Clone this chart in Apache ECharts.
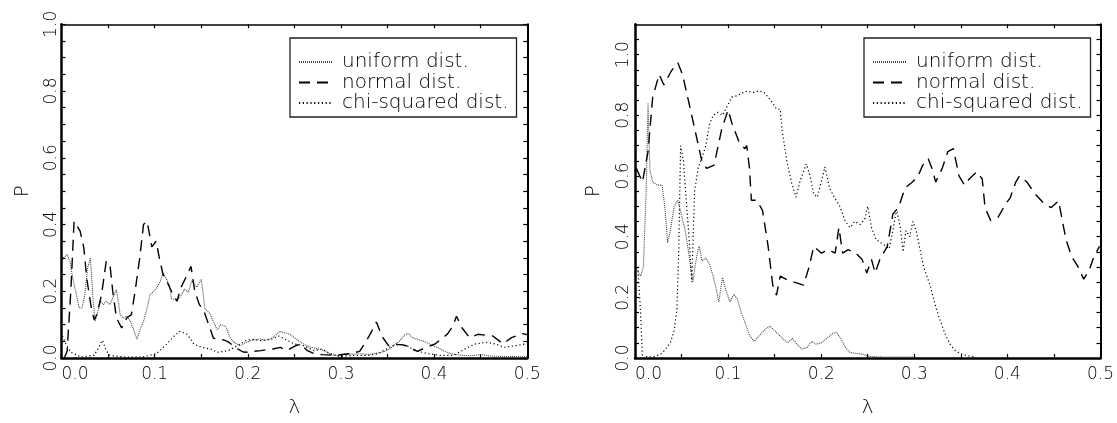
<!DOCTYPE html>
<html><head><meta charset="utf-8">
<script src="https://cdn.jsdelivr.net/npm/echarts@6/dist/echarts.min.js"></script>
<style>html,body{margin:0;padding:0;background:#fff}#c{width:1117px;height:423px}</style>
</head><body><div id="c"></div>
<script>
const seriesNames = ['uniform dist.', 'normal dist.', 'chi-squared dist.'];
const xTickLabels = ['0.0','0.1','0.2','0.3','0.4','0.5'];
const yTickLabels = ['0.0','0.2','0.4','0.6','0.8','1.0'];

const leftUniform = [[0.002,0.30],[0.006,0.31],[0.009,0.29],[0.012,0.24],[0.016,0.19],[0.019,0.15],[0.022,0.15],[0.025,0.19],[0.028,0.27],[0.031,0.30],[0.034,0.17],[0.036,0.11],[0.039,0.14],[0.042,0.17],[0.045,0.16],[0.048,0.17],[0.052,0.16],[0.055,0.18],[0.059,0.205],[0.063,0.13],[0.066,0.12],[0.070,0.125],[0.074,0.11],[0.078,0.08],[0.081,0.057],[0.085,0.09],[0.088,0.11],[0.092,0.15],[0.095,0.19],[0.099,0.20],[0.102,0.21],[0.106,0.23],[0.109,0.255],[0.112,0.24],[0.116,0.217],[0.118,0.178],[0.122,0.175],[0.125,0.174],[0.129,0.19],[0.132,0.207],[0.136,0.197],[0.140,0.232],[0.145,0.212],[0.150,0.236],[0.154,0.148],[0.159,0.134],[0.163,0.11],[0.167,0.085],[0.171,0.10],[0.176,0.095],[0.181,0.061],[0.186,0.045],[0.192,0.037],[0.197,0.045],[0.202,0.051],[0.208,0.055],[0.213,0.057],[0.219,0.053],[0.224,0.057],[0.229,0.066],[0.234,0.08],[0.240,0.075],[0.245,0.071],[0.252,0.057],[0.258,0.045],[0.263,0.037],[0.268,0.032],[0.274,0.028],[0.280,0.024],[0.285,0.017],[0.290,0.010],[0.295,0.007],[0.300,0.010],[0.306,0.013],[0.313,0.011],[0.320,0.013],[0.330,0.011],[0.340,0.015],[0.347,0.020],[0.353,0.028],[0.358,0.040],[0.363,0.051],[0.368,0.068],[0.372,0.074],[0.377,0.060],[0.383,0.055],[0.389,0.050],[0.395,0.042],[0.400,0.035],[0.405,0.030],[0.410,0.022],[0.416,0.015],[0.423,0.010],[0.430,0.008],[0.440,0.007],[0.450,0.010],[0.460,0.006],[0.470,0.005],[0.480,0.004],[0.490,0.004],[0.500,0.003]];

const leftNormal = [[0.003,0.0],[0.006,0.02],[0.010,0.20],[0.0135,0.41],[0.020,0.38],[0.024,0.33],[0.027,0.24],[0.032,0.15],[0.035,0.115],[0.038,0.13],[0.043,0.19],[0.048,0.29],[0.052,0.28],[0.055,0.20],[0.059,0.12],[0.0646,0.09],[0.070,0.12],[0.075,0.13],[0.079,0.20],[0.084,0.30],[0.088,0.40],[0.0918,0.41],[0.097,0.333],[0.1016,0.35],[0.105,0.30],[0.109,0.25],[0.113,0.23],[0.118,0.20],[0.124,0.17],[0.128,0.21],[0.135,0.25],[0.139,0.275],[0.143,0.20],[0.148,0.16],[0.153,0.14],[0.158,0.10],[0.163,0.06],[0.168,0.055],[0.173,0.055],[0.178,0.05],[0.183,0.04],[0.189,0.027],[0.195,0.018],[0.200,0.017],[0.207,0.02],[0.214,0.022],[0.220,0.025],[0.227,0.027],[0.235,0.032],[0.242,0.022],[0.250,0.035],[0.256,0.042],[0.264,0.022],[0.271,0.013],[0.280,0.010],[0.294,0.008],[0.310,0.013],[0.320,0.02],[0.327,0.05],[0.333,0.08],[0.338,0.108],[0.344,0.065],[0.351,0.037],[0.358,0.04],[0.365,0.04],[0.371,0.036],[0.382,0.02],[0.390,0.03],[0.401,0.042],[0.414,0.071],[0.420,0.095],[0.424,0.125],[0.430,0.09],[0.438,0.061],[0.447,0.071],[0.463,0.066],[0.474,0.042],[0.483,0.061],[0.495,0.073],[0.500,0.07]];

const leftChi = [[0.001,0.066],[0.005,0.04],[0.010,0.017],[0.021,0.003],[0.035,0.008],[0.040,0.032],[0.044,0.053],[0.048,0.022],[0.052,0.008],[0.067,0.003],[0.087,0.003],[0.102,0.013],[0.113,0.042],[0.121,0.066],[0.127,0.08],[0.135,0.071],[0.142,0.042],[0.150,0.032],[0.160,0.027],[0.167,0.017],[0.179,0.022],[0.189,0.037],[0.198,0.052],[0.204,0.056],[0.214,0.052],[0.225,0.056],[0.233,0.066],[0.240,0.056],[0.250,0.042],[0.260,0.037],[0.271,0.022],[0.279,0.027],[0.289,0.013],[0.298,0.005],[0.314,0.008],[0.329,0.008],[0.340,0.013],[0.352,0.032],[0.360,0.042],[0.371,0.037],[0.379,0.022],[0.394,0.013],[0.406,0.008],[0.421,0.008],[0.433,0.027],[0.444,0.042],[0.456,0.047],[0.466,0.042],[0.475,0.032],[0.487,0.037],[0.498,0.042]];

const rightUniform = [[0.002,0.29],[0.006,0.27],[0.009,0.30],[0.012,0.55],[0.014,0.84],[0.016,0.62],[0.019,0.58],[0.024,0.57],[0.029,0.57],[0.032,0.50],[0.035,0.38],[0.038,0.42],[0.042,0.50],[0.046,0.52],[0.050,0.47],[0.054,0.42],[0.058,0.34],[0.062,0.25],[0.066,0.33],[0.069,0.37],[0.072,0.32],[0.076,0.33],[0.080,0.31],[0.084,0.27],[0.087,0.23],[0.090,0.185],[0.094,0.265],[0.098,0.22],[0.102,0.185],[0.106,0.21],[0.110,0.195],[0.114,0.15],[0.119,0.11],[0.123,0.075],[0.128,0.055],[0.134,0.075],[0.140,0.095],[0.145,0.105],[0.150,0.09],[0.155,0.075],[0.160,0.06],[0.164,0.05],[0.169,0.065],[0.174,0.045],[0.179,0.03],[0.185,0.035],[0.190,0.055],[0.195,0.045],[0.200,0.05],[0.206,0.065],[0.212,0.08],[0.216,0.085],[0.221,0.065],[0.226,0.035],[0.231,0.018],[0.238,0.015],[0.245,0.012],[0.252,0.005],[0.260,0.004],[0.270,0.003],[0.280,0.003],[0.290,0.003],[0.300,0.003]];

const rightNormal = [[0.0015,0.625],[0.008,0.58],[0.014,0.68],[0.019,0.86],[0.026,0.935],[0.031,0.90],[0.039,0.946],[0.046,0.973],[0.051,0.935],[0.058,0.84],[0.066,0.73],[0.072,0.646],[0.077,0.625],[0.085,0.636],[0.093,0.753],[0.100,0.818],[0.104,0.775],[0.112,0.71],[0.118,0.69],[0.120,0.70],[0.123,0.625],[0.125,0.52],[0.131,0.52],[0.137,0.486],[0.143,0.368],[0.148,0.24],[0.152,0.207],[0.156,0.27],[0.162,0.26],[0.171,0.25],[0.181,0.24],[0.187,0.30],[0.192,0.368],[0.200,0.346],[0.208,0.357],[0.215,0.346],[0.219,0.43],[0.223,0.346],[0.229,0.357],[0.237,0.346],[0.244,0.325],[0.249,0.28],[0.254,0.325],[0.258,0.28],[0.263,0.325],[0.271,0.368],[0.277,0.475],[0.283,0.496],[0.290,0.56],[0.298,0.58],[0.304,0.60],[0.309,0.635],[0.315,0.657],[0.319,0.625],[0.323,0.58],[0.330,0.625],[0.336,0.68],[0.342,0.69],[0.348,0.60],[0.354,0.57],[0.359,0.59],[0.367,0.614],[0.373,0.59],[0.376,0.496],[0.382,0.453],[0.390,0.464],[0.398,0.507],[0.403,0.528],[0.409,0.58],[0.413,0.60],[0.421,0.58],[0.430,0.54],[0.440,0.507],[0.447,0.496],[0.455,0.518],[0.459,0.453],[0.463,0.39],[0.469,0.335],[0.476,0.30],[0.482,0.26],[0.488,0.29],[0.493,0.335],[0.499,0.368]];

const rightChi = [[0.003,0.30],[0.006,0.15],[0.008,0.0],[0.012,0.005],[0.018,0.003],[0.024,0.008],[0.029,0.015],[0.033,0.03],[0.038,0.05],[0.042,0.09],[0.045,0.16],[0.047,0.35],[0.049,0.70],[0.052,0.65],[0.055,0.52],[0.058,0.40],[0.061,0.25],[0.064,0.55],[0.068,0.63],[0.072,0.66],[0.076,0.70],[0.080,0.77],[0.084,0.80],[0.089,0.81],[0.094,0.80],[0.099,0.83],[0.104,0.86],[0.110,0.865],[0.116,0.875],[0.121,0.88],[0.126,0.875],[0.132,0.88],[0.138,0.877],[0.143,0.86],[0.148,0.84],[0.152,0.82],[0.156,0.82],[0.158,0.75],[0.163,0.65],[0.168,0.58],[0.173,0.53],[0.177,0.58],[0.184,0.64],[0.188,0.60],[0.192,0.54],[0.196,0.53],[0.200,0.58],[0.204,0.63],[0.209,0.56],[0.214,0.53],[0.220,0.50],[0.226,0.45],[0.231,0.43],[0.236,0.45],[0.242,0.44],[0.247,0.46],[0.250,0.50],[0.254,0.43],[0.259,0.39],[0.264,0.38],[0.269,0.37],[0.273,0.36],[0.277,0.42],[0.281,0.49],[0.285,0.43],[0.288,0.35],[0.291,0.42],[0.295,0.40],[0.2985,0.45],[0.302,0.42],[0.306,0.36],[0.310,0.30],[0.317,0.24],[0.322,0.18],[0.327,0.13],[0.333,0.08],[0.338,0.047],[0.344,0.025],[0.349,0.015],[0.356,0.008],[0.366,0.004]];

const FONT = 'DejaVu Sans';
const FW = 300;
const chart = echarts.init(document.getElementById('c'), null, {renderer: 'canvas'});

function xLabel(v) {
  const k = Math.round(v * 100);
  if (k % 10 !== 0) return '';
  const s = (k / 100).toFixed(1);
  return xTickLabels.indexOf(s) >= 0 ? s : '';
}
function yLabel(v) {
  const k = Math.round(v * 100);
  if (k % 20 !== 0) return '';
  const s = (k / 100).toFixed(1);
  return yTickLabels.indexOf(s) >= 0 ? s : '';
}

const grids = [
  {left: 61.5, top: 24.3, width: 465.8, height: 343.4},
  {left: 635, top: 24.3, width: 465.7, height: 343.4}
];
const yMax = [1.0, 1.1];
const yGap = [29, 31];
const yMargin = [1, 2.5];

const xAxes = [], yAxes = [];
grids.forEach((g, i) => {
  xAxes.push({
    gridIndex: i, type: 'value', min: 0, max: 0.5, interval: 0.05, position: 'bottom',
    axisLine: {show: true, lineStyle: {color: '#000', width: 2.5}},
    axisTick: {show: true, inside: true, length: 4, lineStyle: {color: '#000', width: 1.2}},
    axisLabel: {show: true, formatter: xLabel, alignMinLabel: 'left', color: '#000',
      fontFamily: FONT, fontWeight: FW, fontSize: 17, margin: 8, showMinLabel: true, showMaxLabel: true},
    splitLine: {show: false},
    name: 'λ', nameLocation: 'middle', nameGap: 40,
    nameTextStyle: {fontFamily: FONT, fontWeight: FW, fontSize: 20, color: '#000'}
  });
  xAxes.push({
    gridIndex: i, type: 'value', min: 0, max: 0.5, interval: 0.05, position: 'top',
    axisLine: {show: true, onZero: false, lineStyle: {color: '#000', width: 1.6}},
    axisTick: {show: true, inside: true, length: 4, lineStyle: {color: '#000', width: 1.2}},
    axisLabel: {show: false}, splitLine: {show: false}
  });
  yAxes.push({
    gridIndex: i, type: 'value', min: 0, max: yMax[i], interval: 0.05, position: 'left',
    axisLine: {show: true, onZero: false, lineStyle: {color: '#000', width: 2.5}},
    axisTick: {show: true, inside: true, length: 4, lineStyle: {color: '#000', width: 1.2}},
    axisLabel: {show: true, formatter: yLabel, rotate: 90, color: '#000',
      fontFamily: FONT, fontWeight: FW, fontSize: 17, margin: yMargin[i], showMaxLabel: i === 0},
    splitLine: {show: false},
    name: 'P', nameLocation: 'middle', nameGap: yGap[i], nameRotate: 90,
    nameTextStyle: {fontFamily: FONT, fontWeight: FW, fontSize: 20, color: '#000'}
  });
  yAxes.push({
    gridIndex: i, type: 'value', min: 0, max: yMax[i], interval: 0.05, position: 'right',
    axisLine: {show: true, onZero: false, lineStyle: {color: '#000', width: 2}},
    axisTick: {show: true, inside: true, length: 4, lineStyle: {color: '#000', width: 1.2}},
    axisLabel: {show: false}, splitLine: {show: false}
  });
});

const styles = [
  {color: '#444', width: 1.1, type: [1, 1]},
  {color: '#000', width: 1.4, type: [11, 7]},
  {color: '#000', width: 1.2, type: [1.2, 2.6]}
];
const plotData = [[leftUniform, leftNormal, leftChi], [rightUniform, rightNormal, rightChi]];

const series = [];
plotData.forEach((arr, i) => {
  arr.forEach((d, j) => {
    series.push({
      name: seriesNames[j], type: 'line', xAxisIndex: 2 * i, yAxisIndex: 2 * i,
      data: d, symbol: 'none', showSymbol: false, smooth: false, clip: true,
      animation: false, silent: true,
      lineStyle: {color: styles[j].color, width: styles[j].width, type: styles[j].type},
      itemStyle: {color: styles[j].color}
    });
  });
});

const legends = [290, 864].map(l => ({
  show: true, orient: 'vertical', left: l, top: 38,
  padding: [14, 8, 4, 8], itemGap: 0.5, itemWidth: 34, itemHeight: 12,
  borderColor: '#222', borderWidth: 1.3, borderRadius: 0,
  selectedMode: false,
  itemStyle: {color: 'rgba(0,0,0,0)', borderWidth: 0, opacity: 0},
  data: seriesNames,
  textStyle: {fontFamily: FONT, fontWeight: FW, fontSize: 20, color: '#000', lineHeight: 20, padding: [0, 0, 0, 4]}
}));

chart.setOption({
  backgroundColor: '#fff',
  animation: false,
  grid: grids,
  xAxis: xAxes,
  yAxis: yAxes,
  legend: legends,
  series: series
});
</script></body></html>
